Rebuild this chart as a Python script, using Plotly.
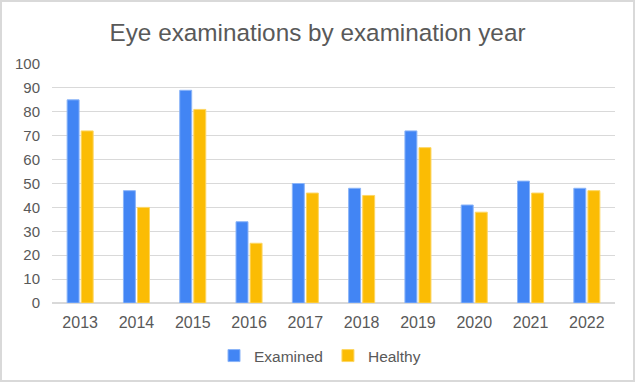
import plotly.graph_objects as go

years = ["2013", "2014", "2015", "2016", "2017", "2018", "2019", "2020", "2021", "2022"]
examined = [85, 47, 89, 34, 50, 48, 72, 41, 51, 48]
healthy = [72, 40, 81, 25, 46, 45, 65, 38, 46, 47]

W, H = 635, 382
L, R, T, B = 52, 20, 64, 79
pw, ph = W - L - R, H - T - B

fig = go.Figure()
fig.add_trace(go.Bar(x=years, y=examined, name="Examined", marker_color="#4285F4",
                     marker_line=dict(color="#8AB4F8", width=1)))
fig.add_trace(go.Bar(x=years, y=healthy, name="Healthy", marker_color="#FBBC04",
                     marker_line=dict(color="#FDD663", width=1)))

fig.update_layout(
    width=W, height=H,
    margin=dict(l=L, r=R, t=T, b=B, autoexpand=False),
    paper_bgcolor="white", plot_bgcolor="white",
    font=dict(family="Liberation Sans, Arial, sans-serif", color="#595959", size=15),
    title=dict(text="Eye examinations by examination year", x=(317.5 - L) / pw, xref="paper",
               xanchor="center", y=1 - 32 / H, yanchor="middle",
               font=dict(size=24.3, color="#595959")),
    barmode="group", bargap=0.5, bargroupgap=0.15,
    showlegend=True,
    legend=dict(orientation="h", x=(320 - L) / pw, xanchor="center", y=-(356 - T - ph) / ph,
                yanchor="middle", font=dict(size=15.5, color="#595959"), itemwidth=30,
                traceorder="normal", tracegroupgap=0),
    xaxis=dict(showgrid=False, showline=True, linecolor="#D9D9D9", linewidth=1, ticks="",
               automargin=False, ticklabelstandoff=5, tickfont=dict(size=16, color="#595959")),
    yaxis=dict(range=[0, 100], dtick=10, showgrid=True, gridcolor="#D9D9D9", gridwidth=1,
               zeroline=True, zerolinecolor="#D9D9D9", ticks="", ticklabelstandoff=11,
               automargin=False, tickfont=dict(size=15, color="#595959")),
    shapes=[dict(type="rect", xref="paper", yref="paper",
                 x0=-(L - 1) / pw, x1=1 + (R - 1) / pw,
                 y0=-(B - 1) / ph, y1=1 + (T - 1) / ph,
                 line=dict(color="#D9D9D9", width=2), fillcolor="rgba(0,0,0,0)", layer="below")],
)

fig.write_html("out.html", config={"displayModeBar": False},
               post_script="document.body.style.margin='0';document.body.style.overflow='hidden';")
